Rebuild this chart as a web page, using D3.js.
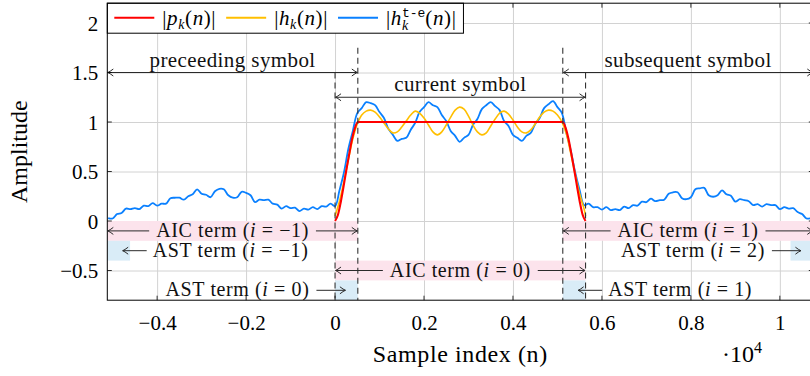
<!DOCTYPE html>
<html>
<head>
<meta charset="utf-8">
<script src="https://cdn.jsdelivr.net/npm/d3@7"></script>
<style>
body { margin: 0; background: #fff; }
svg { font-family: "Liberation Serif", serif; }
</style>
</head>
<body>
<svg id="chart" width="810" height="376"></svg>
<script>
const width = 810, height = 376;
const plot = {left: 107.3, right: 813.3, top: 3.2, bottom: 300.2};
const fontSize = 21, termSize = 20, tickSize = 21, titleSize = 24;

// axis ticks (sample index in units of 10^4)
const xTicks = [-0.4, -0.2, 0, 0.2, 0.4, 0.6, 0.8, 1];
const yTicks = [-0.5, 0, 0.5, 1, 1.5, 2];

// symbol boundaries
const prevStart = -0.512, symStart = 0, cpEnd = 0.0512, csEnd = 0.512, symEnd = 0.5632, nextEnd = 1.0752;

// |p_k(n)| window
const pX = [0, 0.0064, 0.0128, 0.0192, 0.0256, 0.032, 0.0384, 0.0448, 0.0512,
            0.512, 0.5184, 0.5248, 0.5312, 0.5376, 0.544, 0.5504, 0.5568, 0.5632];
const pY = [0, 0.06, 0.19, 0.35, 0.52, 0.68, 0.83, 0.94, 1,
            1, 0.94, 0.83, 0.68, 0.52, 0.35, 0.19, 0.06, 0];

// |h_k(n)|
const hX = [0, 0.01, 0.02, 0.03, 0.04, 0.05, 0.06, 0.07, 0.08, 0.09, 0.10, 0.11, 0.12, 0.13, 0.14,
            0.15, 0.16, 0.17, 0.18, 0.19, 0.20, 0.21, 0.22, 0.23, 0.24, 0.25, 0.26, 0.27, 0.28, 0.29,
            0.30, 0.31, 0.32, 0.33, 0.34, 0.35, 0.36, 0.37, 0.38, 0.39, 0.40, 0.41, 0.42, 0.43, 0.44,
            0.45, 0.46, 0.47, 0.48, 0.49, 0.50, 0.51, 0.52, 0.53, 0.54, 0.55, 0.56, 0.5632];
const hY = [0.05, 0.2, 0.4, 0.62, 0.83, 0.98, 1.07, 1.11, 1.12, 1.1, 1.05, 0.99, 0.93, 0.89, 0.9,
            0.95, 1.01, 1.07, 1.11, 1.09, 1.04, 0.97, 0.9, 0.87, 0.9, 0.97, 1.05, 1.12, 1.15, 1.13,
            1.06, 0.97, 0.9, 0.87, 0.89, 0.96, 1.03, 1.09, 1.11, 1.08, 1.02, 0.95, 0.9, 0.89, 0.92,
            0.98, 1.05, 1.1, 1.12, 1.11, 1.07, 1.0, 0.88, 0.68, 0.47, 0.27, 0.12, 0.05];

// |h_k^{t-e}(n)|, read every 0.01 from -0.51 to 1.07
const hteStart = -0.51, hteStep = 0.01;
const hteY = [
  0.03, 0.025, 0.07, 0.08, 0.125, 0.12, 0.13, 0.12, 0.155, 0.15,
  0.18, 0.155, 0.175, 0.175, 0.23, 0.235, 0.235, 0.215, 0.25, 0.27,
  0.32, 0.275, 0.265, 0.24, 0.30, 0.325, 0.32, 0.26, 0.235, 0.24,
  0.295, 0.285, 0.26, 0.19, 0.215, 0.21, 0.215, 0.175, 0.165, 0.125,
  0.15, 0.13, 0.135, 0.10, 0.125, 0.115, 0.14, 0.12, 0.15, 0.145,
  0.175, 0.15,
  0.31, 0.49, 0.73, 0.91, 1.09, 1.14, 1.20, 1.19, 1.17, 1.10,
  1.04, 0.93, 0.87, 0.81, 0.83, 0.84, 0.92, 0.99, 1.10, 1.15,
  1.20, 1.17, 1.15, 1.07, 1.01, 0.91, 0.86, 0.80, 0.84, 0.87,
  0.97, 1.03, 1.13, 1.17, 1.20, 1.16, 1.12, 1.01, 0.96, 0.87,
  0.84, 0.81, 0.86, 0.89, 0.98, 1.04, 1.14, 1.18, 1.21, 1.15,
  1.09, 0.89, 0.71, 0.49, 0.31, 0.16,
  0.175, 0.14, 0.14, 0.115, 0.14, 0.11, 0.12, 0.11, 0.145, 0.13,
  0.16, 0.155, 0.195, 0.19, 0.225, 0.20, 0.21, 0.215, 0.275, 0.29,
  0.29, 0.23, 0.22, 0.24, 0.32, 0.33, 0.335, 0.26, 0.245, 0.26,
  0.31, 0.27, 0.255, 0.195, 0.22, 0.21, 0.20, 0.16, 0.17, 0.145,
  0.17, 0.16, 0.16, 0.12, 0.14, 0.125, 0.13, 0.09, 0.07, 0.025,
  0.03
];
const hteX = hteY.map((v, i) => +(hteStart + i * hteStep).toFixed(4));

// annotation terms: [label, from, to, row]  (row k spans -0.2k .. -0.2(k+1))
const aicTerms = [["−1", prevStart, cpEnd, 0], ["0", symStart, symEnd, 2], ["1", csEnd, nextEnd, 0]];
const astTerms = [["−1", prevStart, -0.4608, 1, "right"], ["0", symStart, cpEnd, 3, "left"],
                  ["1", csEnd, symEnd, 3, "right"], ["2", 1.024, nextEnd, 1, "left"]];

const colors = {p: "#ff0000", h: "#ffbf00", hte: "#0a80ff", aic: "#fce3ec", ast: "#d9ecf7", grid: "#d2d2d2", ink: "#2a2a2a"};

const svg = d3.select("#chart");
const x = d3.scaleLinear().domain([prevStart, nextEnd]).range([plot.left, plot.right]);
const y = d3.scaleLinear().domain([-0.8, 2.2]).range([plot.bottom, plot.top]);
const fmt = d => d < 0 ? "−" + Math.abs(d) : String(d);

const defs = svg.append("defs");
defs.append("clipPath").attr("id", "clip").append("rect")
    .attr("x", plot.left).attr("y", plot.top)
    .attr("width", plot.right - plot.left).attr("height", plot.bottom - plot.top);
defs.append("marker").attr("id", "tip")
    .attr("viewBox", "-8 -5 10 10").attr("refX", 0).attr("refY", 0)
    .attr("markerWidth", 10).attr("markerHeight", 10)
    .attr("markerUnits", "userSpaceOnUse").attr("orient", "auto-start-reverse")
    .append("path").attr("d", "M-5.5,-3.5 Q-2,-0.8 0,0 Q-2,0.8 -5.5,3.5")
    .attr("fill", "none").attr("stroke", colors.ink).attr("stroke-width", 1);

// grid + tick labels
const gx = svg.append("g").attr("transform", `translate(0,${plot.bottom})`)
    .call(d3.axisBottom(x).tickValues(xTicks).tickSize(-(plot.bottom - plot.top)).tickFormat(fmt));
gx.select(".domain").remove();
gx.selectAll(".tick line").attr("stroke", colors.grid);
gx.selectAll(".tick text").attr("font-family", "Liberation Serif").attr("font-size", tickSize)
    .attr("fill", "#000").attr("y", 30).attr("dy", null);

const gy = svg.append("g").attr("transform", `translate(${plot.left},0)`)
    .call(d3.axisLeft(y).tickValues(yTicks).tickSize(-(plot.right - plot.left)).tickFormat(fmt));
gy.select(".domain").remove();
gy.selectAll(".tick line").attr("stroke", colors.grid);
gy.selectAll(".tick text").attr("font-family", "Liberation Serif").attr("font-size", tickSize)
    .attr("fill", "#000").attr("x", -9).attr("dy", 7);

const inner = svg.append("g").attr("clip-path", "url(#clip)");

// shaded term bands
inner.selectAll("rect.aic").data(aicTerms).join("rect").attr("class", "aic")
    .attr("x", d => x(d[1])).attr("width", d => x(d[2]) - x(d[1]))
    .attr("y", d => y(-0.2 * d[3])).attr("height", d => y(-0.2 * (d[3] + 1)) - y(-0.2 * d[3]))
    .attr("fill", colors.aic);
inner.selectAll("rect.ast").data(astTerms).join("rect").attr("class", "ast")
    .attr("x", d => x(d[1])).attr("width", d => x(d[2]) - x(d[1]))
    .attr("y", d => y(-0.2 * d[3])).attr("height", d => y(-0.2 * (d[3] + 1)) - y(-0.2 * d[3]))
    .attr("fill", colors.ast);

// ticks inside the frame
const tk = svg.append("g").attr("stroke", "#000").attr("stroke-width", 0.8);
xTicks.forEach(t => {
    tk.append("line").attr("x1", x(t)).attr("x2", x(t)).attr("y1", plot.bottom).attr("y2", plot.bottom - 4.5);
    tk.append("line").attr("x1", x(t)).attr("x2", x(t)).attr("y1", plot.top).attr("y2", plot.top + 4.5);
});
yTicks.forEach(t => {
    tk.append("line").attr("x1", plot.left).attr("x2", plot.left + 4.5).attr("y1", y(t)).attr("y2", y(t));
    tk.append("line").attr("x1", plot.right).attr("x2", plot.right - 4.5).attr("y1", y(t)).attr("y2", y(t));
});

// curves
const line = d3.line().x(d => x(d[0])).y(d => y(d[1]));
inner.append("path").datum(d3.zip(hteX, hteY)).attr("d", line.curve(d3.curveCatmullRom))
    .attr("fill", "none").attr("stroke", colors.hte).attr("stroke-width", 1.8).attr("stroke-linejoin", "round");
inner.append("path").datum(d3.zip(hX, hY)).attr("d", line.curve(d3.curveCatmullRom))
    .attr("fill", "none").attr("stroke", colors.h).attr("stroke-width", 1.6);
inner.append("path").datum(d3.zip(pX, pY)).attr("d", line.curve(d3.curveMonotoneX))
    .attr("fill", "none").attr("stroke", colors.p).attr("stroke-width", 2.1);

// dashed symbol boundaries
const dashes = [[symStart, 1.5], [cpEnd, 1.75], [csEnd, 1.75], [symEnd, 1.5]];
inner.selectAll("line.dash").data(dashes).join("line").attr("class", "dash")
    .attr("x1", d => x(d[0])).attr("x2", d => x(d[0]))
    .attr("y1", d => y(d[1])).attr("y2", plot.bottom)
    .attr("stroke", "#333").attr("stroke-width", 1.1).attr("stroke-dasharray", "6,4");

function arrow(g, x1, x2, yy, both) {
    const l = g.append("line").attr("x1", x1).attr("x2", x2).attr("y1", yy).attr("y2", yy)
        .attr("stroke", colors.ink).attr("stroke-width", 1).attr("marker-end", "url(#tip)");
    if (both) l.attr("marker-start", "url(#tip)");
    return l;
}
function termText(g, name, idx, tx, ty, anchor) {
    const t = g.append("text").attr("x", tx).attr("y", ty).attr("text-anchor", anchor)
        .attr("font-size", termSize).attr("letter-spacing", 0.6).attr("fill", "#111");
    t.append("tspan").text(name + " term (");
    t.append("tspan").attr("font-style", "italic").text("i");
    t.append("tspan").text(" = " + idx + ")");
    return t;
}

// symbol span arrows
const spans = [["preceeding symbol", prevStart, cpEnd, 1.5], ["current symbol", symStart, symEnd, 1.25],
               ["subsequent symbol", csEnd, nextEnd, 1.5]];
spans.forEach(s => {
    arrow(inner, x(s[1]) + 0.5, x(s[2]) - 0.5, y(s[3]), true);
    inner.append("text").attr("x", (x(s[1]) + x(s[2])) / 2).attr("y", y(s[3]) - 6)
        .attr("text-anchor", "middle").attr("font-size", fontSize).attr("letter-spacing", 0.4)
        .attr("fill", "#111").text(s[0]);
});

// AIC labels sit on the arrow with a band-coloured background
aicTerms.forEach(d => {
    const yy = y(-0.2 * d[3] - 0.1);
    arrow(inner, x(d[1]) + 0.5, x(d[2]) - 0.5, yy, true);
    const cx = (x(d[1]) + x(d[2])) / 2;
    const t = termText(inner, "AIC", d[0], cx, yy + 6, "middle");
    const bb = t.node().getBBox();
    inner.insert("rect", () => t.node()).attr("x", bb.x - 7).attr("y", yy - 8)
        .attr("width", bb.width + 14).attr("height", 16).attr("fill", colors.aic);
});

// AST labels point into their band
astTerms.forEach(d => {
    const yy = y(-0.2 * d[3] - 0.1);
    const cx = (x(d[1]) + x(d[2])) / 2;
    if (d[4] === "right") {
        arrow(inner, cx + 28, cx + 4, yy, false);
        termText(inner, "AST", d[0], cx + 34, yy + 6, "start");
    } else {
        arrow(inner, cx - 30, cx - 1, yy, false);
        termText(inner, "AST", d[0], cx - 37, yy + 6, "end");
    }
});

// legend
const lg = svg.append("g");
const lgBox = lg.append("rect").attr("x", plot.left).attr("y", plot.top).attr("height", 30)
    .attr("fill", "#fff").attr("stroke", "#000").attr("stroke-width", 1);
const lgY = plot.top + 14.5, lgBase = plot.top + 21.5;
let lx = plot.left + 7;
function legendEntry(color, build) {
    lg.append("line").attr("x1", lx).attr("x2", lx + 40).attr("y1", lgY).attr("y2", lgY)
        .attr("stroke", color).attr("stroke-width", 2);
    const t = lg.append("text").attr("x", lx + 48).attr("y", lgBase).attr("font-size", fontSize)
        .attr("letter-spacing", 0.6);
    build(t);
    lx = lx + 48 + t.node().getBBox().width + 10;
}
function absOf(t, sym, scripts) {
    t.append("tspan").text("|");
    t.append("tspan").attr("font-style", "italic").text(sym);
    const back = scripts(t);
    t.append("tspan").attr("dx", back.dx).attr("dy", back.dy).text("(");
    t.append("tspan").attr("font-style", "italic").text("n");
    t.append("tspan").text(")|");
}
function subK(t) {
    t.append("tspan").attr("font-style", "italic").attr("font-size", 14).attr("dy", 4).text("k");
    return {dx: 0, dy: -4};
}
legendEntry(colors.p, t => absOf(t, "p", subK));
legendEntry(colors.h, t => absOf(t, "h", subK));
legendEntry(colors.hte, t => absOf(t, "h", t => {
    const sup = t.append("tspan").attr("font-family", "Liberation Mono").attr("font-size", 13)
        .attr("letter-spacing", 0).attr("dy", -8).text("t-e");
    const w = sup.node().getComputedTextLength();
    const k = t.append("tspan").attr("font-style", "italic").attr("font-size", 14)
        .attr("dx", -w).attr("dy", 13).text("k");
    const kw = k.node().getComputedTextLength();
    return {dx: w - kw, dy: -5};
}));
lgBox.attr("width", lx - 3 - plot.left);

// axis titles
svg.append("text").attr("transform", `translate(27,${(plot.top + plot.bottom) / 2}) rotate(-90)`)
    .attr("text-anchor", "middle").attr("font-size", titleSize).text("Amplitude");
svg.append("text").attr("x", (plot.left + plot.right) / 2).attr("y", 362)
    .attr("text-anchor", "middle").attr("font-size", titleSize).attr("letter-spacing", 0.6)
    .text("Sample index (n)");
const sc = svg.append("text").attr("x", 722).attr("y", 362).attr("font-size", titleSize);
sc.append("tspan").text("·10");
sc.append("tspan").attr("font-size", 16).attr("dy", -9).text("4");

// frame
svg.append("rect").attr("x", plot.left).attr("y", plot.top)
    .attr("width", plot.right - plot.left).attr("height", plot.bottom - plot.top)
    .attr("fill", "none").attr("stroke", "#000").attr("stroke-width", 1);
</script>
</body>
</html>
